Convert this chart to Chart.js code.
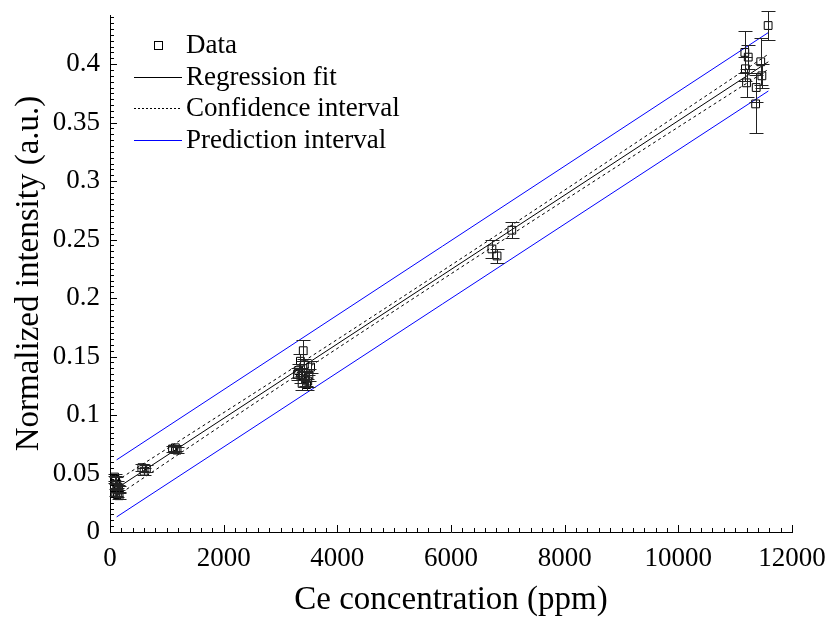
<!DOCTYPE html>
<html>
<head>
<meta charset="utf-8">
<script src="https://cdn.jsdelivr.net/npm/chart.js@4.4.0/dist/chart.umd.min.js"></script>
<style>
  html, body { margin: 0; padding: 0; background: #fff; }
</style>
</head>
<body>
<canvas id="ceChart" width="829" height="623"></canvas>
<script>
// measured samples (ppm, normalized intensity, error)
const dataX = [80, 100, 120, 140, 150, 100, 130, 160, 90,
  560, 600, 640,
  1100, 1150, 1180,
  3400, 3350, 3420, 3530, 3300, 3360, 3440, 3480, 3380, 3460, 3320, 3500,
  6720, 6810, 7070,
  11170, 11230, 11180, 11200, 11370, 11360, 11450, 11470, 11580];
const dataY = [0.047, 0.044, 0.041, 0.038, 0.036, 0.034, 0.032, 0.031, 0.045,
  0.055, 0.052, 0.054,
  0.071, 0.072, 0.070,
  0.155, 0.146, 0.143, 0.141, 0.135, 0.133, 0.131, 0.129, 0.127, 0.126, 0.138, 0.134,
  0.242, 0.236, 0.258,
  0.410, 0.406, 0.396, 0.384, 0.380, 0.366, 0.402, 0.390, 0.433];
const dataErr = [0.003, 0.003, 0.003, 0.002, 0.003, 0.003, 0.002, 0.003, 0.003,
  0.003, 0.003, 0.003,
  0.0025, 0.0025, 0.0025,
  0.009, 0.006, 0.005, 0.005, 0.005, 0.006, 0.006, 0.005, 0.006, 0.005, 0.006, 0.005,
  0.0075, 0.006, 0.007,
  0.018, 0.010, 0.010, 0.012, 0.012, 0.025, 0.020, 0.010, 0.012];

// regression line and bands
const fitX = [117, 11584];
const fitY = [0.0373, 0.4020];
const ciX = [117, 3000, 6000, 9000, 11584];
const ciUpper = [0.0438, 0.1332, 0.2281, 0.3246, 0.4085];
const ciLower = [0.0308, 0.1248, 0.2207, 0.3150, 0.3955];
const piX = [117, 11584];
const piUpper = [0.0617, 0.4270];
const piLower = [0.0129, 0.3770];

const xTicks = [0, 2000, 4000, 6000, 8000, 10000, 12000];
const yTicks = [0, 0.05, 0.1, 0.15, 0.2, 0.25, 0.3, 0.35, 0.4];

const serif = "'Liberation Serif', 'Times New Roman', serif";

function pts(xs, ys) {
  return xs.map((x, i) => ({ x: x, y: ys[i] }));
}

// error bars for the data series
const errorBars = {
  id: "errorBars",
  afterDatasetsDraw(chart) {
    const ctx = chart.ctx;
    const xs = chart.scales.x, ys = chart.scales.y;
    ctx.save();
    ctx.strokeStyle = "#222";
    ctx.lineWidth = 1;
    dataX.forEach((x, i) => {
      const px = Math.round(xs.getPixelForValue(x)) + 0.5;
      const top = Math.round(ys.getPixelForValue(dataY[i] + dataErr[i])) + 0.5;
      const bot = Math.round(ys.getPixelForValue(dataY[i] - dataErr[i])) + 0.5;
      ctx.beginPath();
      ctx.moveTo(px, top); ctx.lineTo(px, bot);
      ctx.moveTo(px - 7, top); ctx.lineTo(px + 7, top);
      ctx.moveTo(px - 7, bot); ctx.lineTo(px + 7, bot);
      ctx.stroke();
    });
    ctx.restore();
  }
};

// ticks pointing inward, with minor ticks
const innerTicks = {
  id: "innerTicks",
  afterDraw(chart) {
    const ctx = chart.ctx;
    const xs = chart.scales.x, ys = chart.scales.y;
    const a = chart.chartArea;
    ctx.save();
    ctx.strokeStyle = "#000";
    ctx.lineWidth = 1;
    ctx.beginPath();
    for (let i = 0; i <= 60; i++) {
      const px = Math.round(xs.getPixelForValue(i * 200)) + 0.5;
      const len = i % 10 === 0 ? 7 : 4;
      ctx.moveTo(px, a.bottom); ctx.lineTo(px, a.bottom - len);
    }
    for (let i = 0; i * 0.005 <= ys.max + 1e-9; i++) {
      const py = Math.round(ys.getPixelForValue(i * 0.005)) + 0.5;
      const len = i % 10 === 0 ? 7 : 4;
      ctx.moveTo(a.left, py); ctx.lineTo(a.left + len, py);
    }
    ctx.stroke();
    ctx.restore();
  }
};

// legend in the upper left corner
const cornerLegend = {
  id: "cornerLegend",
  afterDraw(chart) {
    const ctx = chart.ctx;
    const rows = [
      { y: 45, label: "Data" },
      { y: 77, label: "Regression fit", color: "#000", dash: [] },
      { y: 108, label: "Confidence interval", color: "#000", dash: [2, 2] },
      { y: 140, label: "Prediction interval", color: "#0000ff", dash: [] }
    ];
    ctx.save();
    ctx.font = "27px " + serif;
    ctx.fillStyle = "#000";
    ctx.textBaseline = "middle";
    rows.forEach(r => {
      if (r.color) {
        ctx.strokeStyle = r.color;
        ctx.lineWidth = 1;
        ctx.setLineDash(r.dash);
        ctx.beginPath();
        ctx.moveTo(134, r.y + 0.5); ctx.lineTo(182, r.y + 0.5);
        ctx.stroke();
        ctx.setLineDash([]);
      } else {
        ctx.strokeStyle = "#000";
        ctx.lineWidth = 1;
        ctx.strokeRect(154.5, r.y - 3.5, 8, 8);
      }
      ctx.fillText(r.label, 186, r.y + 1);
    });
    ctx.restore();
  }
};

const ctx = document.getElementById("ceChart").getContext("2d");
new Chart(ctx, {
  type: "scatter",
  data: {
    datasets: [
      {
        label: "Data",
        data: pts(dataX, dataY),
        pointStyle: "rect",
        pointRadius: 5.5,
        borderColor: "#000",
        backgroundColor: "rgba(0,0,0,0)",
        borderWidth: 1
      },
      {
        label: "Regression fit",
        type: "line",
        data: pts(fitX, fitY),
        borderColor: "#000",
        borderWidth: 1,
        pointRadius: 0
      },
      {
        label: "Confidence interval",
        type: "line",
        data: pts(ciX, ciUpper),
        borderColor: "#000",
        borderWidth: 1,
        borderDash: [3, 3],
        cubicInterpolationMode: "monotone",
        pointRadius: 0
      },
      {
        label: "Confidence interval lower",
        type: "line",
        data: pts(ciX, ciLower),
        borderColor: "#000",
        borderWidth: 1,
        borderDash: [3, 3],
        cubicInterpolationMode: "monotone",
        pointRadius: 0
      },
      {
        label: "Prediction interval",
        type: "line",
        data: pts(piX, piUpper),
        borderColor: "#0000ff",
        borderWidth: 1,
        pointRadius: 0
      },
      {
        label: "Prediction interval lower",
        type: "line",
        data: pts(piX, piLower),
        borderColor: "#0000ff",
        borderWidth: 1,
        pointRadius: 0
      }
    ]
  },
  options: {
    responsive: false,
    animation: false,
    devicePixelRatio: 1,
    layout: { padding: { left: 0, top: 15, right: 37, bottom: 0 } },
    plugins: {
      legend: { display: false },
      tooltip: { enabled: false }
    },
    scales: {
      x: {
        type: "linear",
        min: 0,
        max: 12000,
        afterBuildTicks: s => { s.ticks = xTicks.map(v => ({ value: v })); },
        afterFit: s => { s.height = 91; s.paddingLeft = 0; s.paddingRight = 0; },
        grid: { drawOnChartArea: false, drawTicks: false },
        border: { display: true, color: "#000", width: 1 },
        ticks: {
          padding: 11,
          color: "#000",
          font: { family: serif, size: 27 },
          maxRotation: 0,
          callback: v => String(v)
        },
        title: {
          display: true,
          text: "Ce concentration (ppm)",
          color: "#000",
          font: { family: serif, size: 33 },
          padding: { top: 0, bottom: 3 }
        }
      },
      y: {
        type: "linear",
        min: 0,
        max: 0.442,
        afterBuildTicks: s => { s.ticks = yTicks.map(v => ({ value: v })); },
        afterFit: s => { s.width = 110; s.paddingTop = 0; s.paddingBottom = 0; },
        grid: { drawOnChartArea: false, drawTicks: false },
        border: { display: true, color: "#000", width: 1 },
        ticks: {
          padding: 10,
          color: "#000",
          font: { family: serif, size: 27 },
          callback: v => String(+v.toFixed(2))
        },
        title: {
          display: true,
          text: "Normalized intensity (a.u.)",
          color: "#000",
          font: { family: serif, size: 33 },
          padding: { top: 10, bottom: 0 }
        }
      }
    }
  },
  plugins: [errorBars, innerTicks, cornerLegend]
});
</script>
</body>
</html>
